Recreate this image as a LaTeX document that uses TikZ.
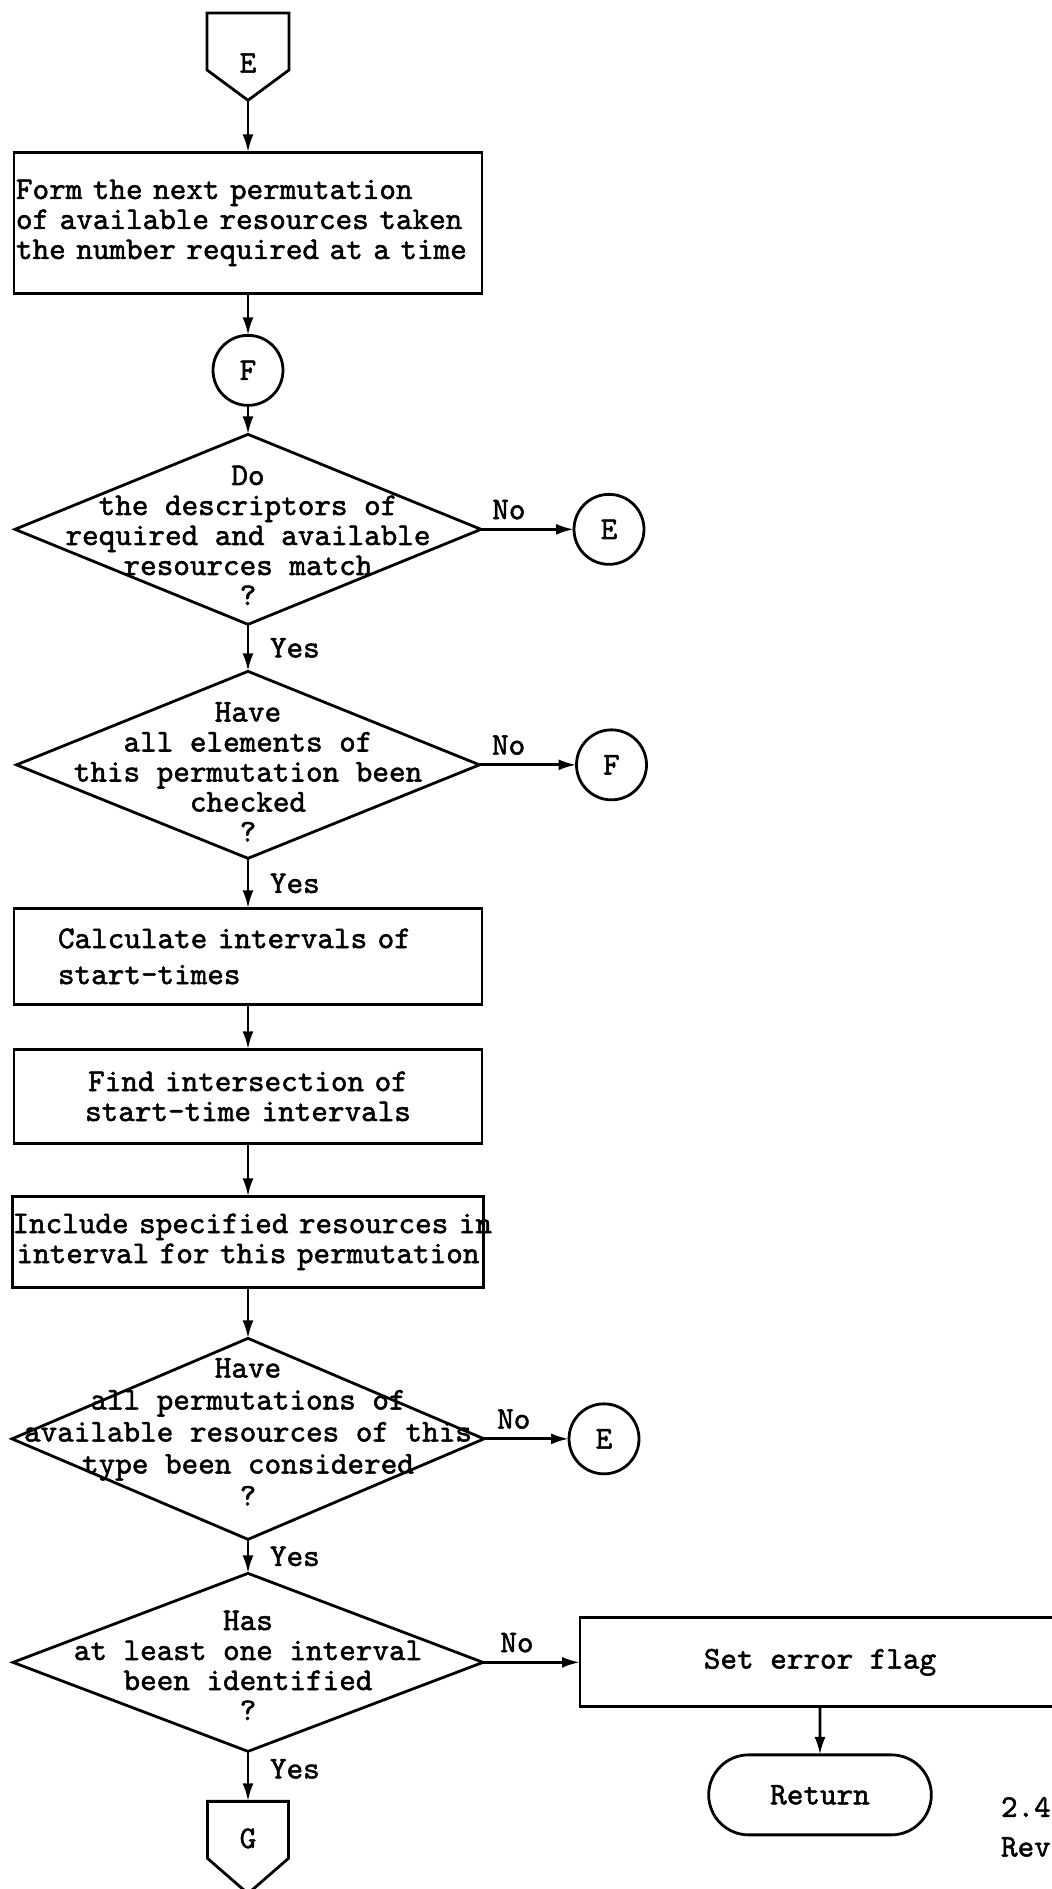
\documentclass[tikz,border=0pt]{standalone}
\usepackage{fontspec}
\setmonofont{lmmono10-regular.otf}[AutoFakeBold=1.6]
\usepackage{tikz}
\usetikzlibrary{arrows.meta, positioning, shapes.geometric, shapes.symbols, shapes.misc}

\begin{document}
\begin{tikzpicture}[
  font=\ttfamily\bfseries\fontsize{15.8pt}{15pt}\selectfont,
  line width=1.4pt, outer sep=0pt,
  box/.style={
    rectangle, draw, inner ysep=0pt,
    minimum width=234pt, minimum height=47pt
  },
  decision/.style={diamond, draw, inner sep=0pt},
  query/.style={align=center, inner sep=0pt},
  conn/.style={circle, draw, minimum size=35pt, inner sep=0pt},
  offpage/.style={
    signal, signal to=south, signal from=nowhere, draw,
    minimum width=41pt, minimum height=28.5pt, inner sep=0pt
  },
  term/.style={
    rounded rectangle, draw,
    minimum width=118pt, minimum height=40pt
  },
  lbl/.style={inner sep=2pt},
  arr/.style={-{Latex[length=9pt, width=5.5pt]}}
]
  \useasboundingbox (0,0) rectangle (525.5pt,-944.5pt);

  \node[offpage, signal pointer angle=107, anchor=north] (topE) at (124pt,-6.5pt) {};
  \node (topEt) at ([yshift=-25pt]topE.north) {E};

  \node[box, below=26pt of topE, minimum height=70.5pt,
        text width=232pt, inner xsep=1pt, align=left] (form)
    {Form the next permutation\\of available resources taken\\the number required at a time};
  \node[conn, below=21pt of form] (F1) {F};

  \node[decision, below=14.5pt of F1, minimum width=233pt, minimum height=95pt] (match) {};
  \node[query] (matchq) at ([yshift=-3pt]match.center)
    {Do\\the descriptors of\\required and available\\resources match\\?};
  \node[conn, right=46.5pt of match] (E1) {E};

  \node[decision, below=23.5pt of match, minimum width=231.5pt, minimum height=93.5pt] (checked) {};
  \node[query] (checkedq) at ([yshift=-3.5pt]checked.center)
    {Have\\all elements of\\this permutation been\\checked\\?};
  \node[conn, right=48.5pt of checked] (F2) {F};

  \node[box, below=25pt of checked, minimum height=48pt,
        text width=190pt, inner xsep=22pt, align=left] (calc)
    {Calculate intervals of\\[3pt]start-times};
  \node[box, below=22.5pt of calc, text width=234pt, inner xsep=0pt, align=center] (find)
    {Find intersection of\\start-time intervals};
  \node[box, below=26.5pt of find, minimum height=45.5pt,
        text width=235.5pt, inner xsep=0pt, align=center] (incl)
    {\mbox{Include specified resources in}\\interval for this permutation};

  \node[decision, below=25.5pt of incl, minimum width=236pt, minimum height=100.5pt] (allperm) {};
  \node[query] (allpermq) at ([yshift=3.5pt]allperm.center)
    {Have\\[1pt]all permutations of\\[1pt]available resources of this\\[1pt]type been considered\\[1pt]?};
  \node[conn, right=42.5pt of allperm] (E3) {E};

  \node[decision, below=17pt of allperm, minimum width=235pt, minimum height=89pt] (found) {};
  \node[query] (foundq) at ([yshift=-1.5pt]found.center)
    {Has\\at least one interval\\been identified\\?};
  \node[box, right=48.5pt of found, minimum width=240pt, minimum height=44.5pt] (flag) {Set error flag};
  \node[term, below=24pt of flag] (ret) {Return};

  \node[offpage, below=25pt of found, minimum width=40.5pt, signal pointer angle=98] (botG) {};
  \node (botGt) at ([yshift=-18.5pt]botG.north) {G};

  \node[anchor=west, inner sep=0pt] (ver) at (500.5pt,-903.5pt) {2.4};
  \node[anchor=west, inner sep=0pt] (rev) at (500.5pt,-923.5pt) {Rev};

  \draw[arr] (topE) -- (form);
  \draw[arr] (form) -- (F1);
  \draw[arr] (F1) -- (match);
  \draw[arr] (match) -- node[lbl, above, pos=0.3, yshift=3pt] (no1) {No} (E1);
  \draw[arr] (match) -- node[lbl, right, xshift=9pt] (yes1) {Yes} (checked);
  \draw[arr] (checked) -- node[lbl, above, pos=0.3, yshift=3pt] (no2) {No} (F2);
  \draw[arr] (checked) -- node[lbl, right, xshift=9pt] (yes2) {Yes} (calc);
  \draw[arr] (calc) -- (find);
  \draw[arr] (find) -- (incl);
  \draw[arr] (incl) -- (allperm);
  \draw[arr] (allperm) -- node[lbl, above, pos=0.35, yshift=3pt] (no3) {No} (E3);
  \draw[arr] (allperm) -- node[lbl, right, xshift=9pt] (yes3) {Yes} (found);
  \draw[arr] (found) -- node[lbl, above, pos=0.35, yshift=3pt] (no4) {No} (flag);
  \draw[arr] (found) -- node[lbl, right, xshift=9pt, pos=0.35] (yes4) {Yes} (botG);
  \draw[arr] (flag) -- (ret);
\end{tikzpicture}
\end{document}
